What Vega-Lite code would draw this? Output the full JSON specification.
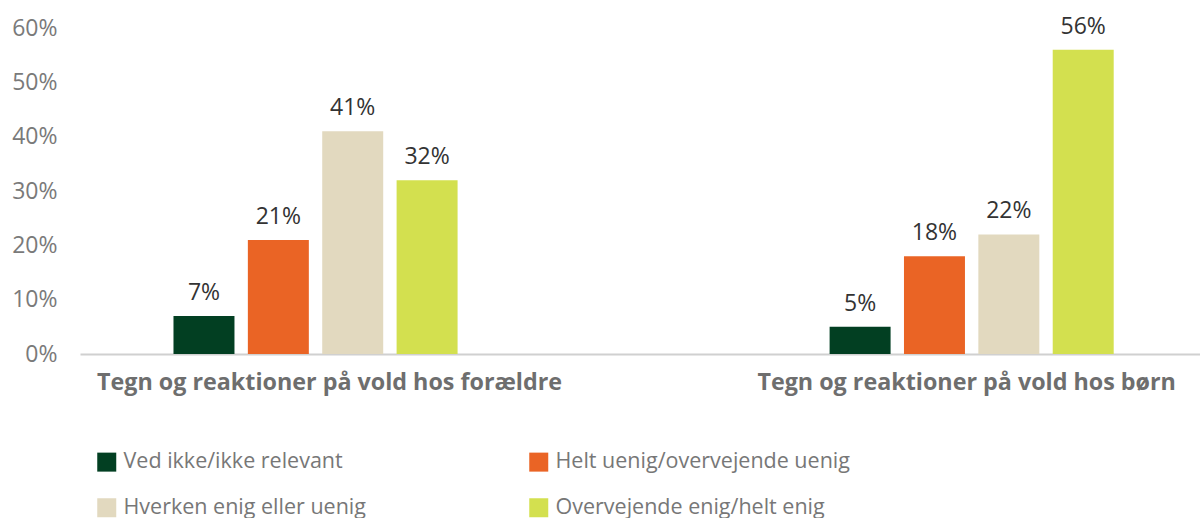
{
  "$schema": "https://vega.github.io/schema/vega-lite/v6.json",
  "width": 1120,
  "height": 326,
  "autosize": {"type": "none"},
  "padding": {"left": 80, "top": 28, "right": 0, "bottom": 164},
  "background": "white",
  "config": {"view": {"stroke": null}, "font": "Open Sans"},
  "data": {
    "values": [
      {"group": "Tegn og reaktioner på vold hos forældre", "cat": "Ved ikke/ikke relevant", "value": 0.07},
      {"group": "Tegn og reaktioner på vold hos forældre", "cat": "Helt uenig/overvejende uenig", "value": 0.21},
      {"group": "Tegn og reaktioner på vold hos forældre", "cat": "Hverken enig eller uenig", "value": 0.41},
      {"group": "Tegn og reaktioner på vold hos forældre", "cat": "Overvejende enig/helt enig", "value": 0.32},
      {"group": "Tegn og reaktioner på vold hos børn", "cat": "Ved ikke/ikke relevant", "value": 0.05},
      {"group": "Tegn og reaktioner på vold hos børn", "cat": "Helt uenig/overvejende uenig", "value": 0.18},
      {"group": "Tegn og reaktioner på vold hos børn", "cat": "Hverken enig eller uenig", "value": 0.22},
      {"group": "Tegn og reaktioner på vold hos børn", "cat": "Overvejende enig/helt enig", "value": 0.56}
    ]
  },
  "encoding": {
    "x": {
      "field": "group",
      "type": "nominal",
      "sort": ["Tegn og reaktioner på vold hos forældre", "Tegn og reaktioner på vold hos børn"],
      "scale": {"paddingInner": 0.567, "paddingOuter": 0.137, "align": 0.52},
      "axis": {
        "title": null,
        "labelAngle": 0,
        "labelFontSize": 23.3,
        "labelFontWeight": "bold",
        "labelColor": "#6e6e6e",
        "labelPadding": 17,
        "labelLimit": 0,
        "ticks": false,
        "domainColor": "#d0d0d0",
        "domainWidth": 2,
        "labelOffset": {"condition": {"test": "datum.index === 0", "value": 14}, "value": -5}
      }
    },
    "xOffset": {
      "field": "cat",
      "type": "nominal",
      "sort": ["Ved ikke/ikke relevant", "Helt uenig/overvejende uenig", "Hverken enig eller uenig", "Overvejende enig/helt enig"],
      "scale": {"paddingInner": 0.18, "paddingOuter": 0}
    },
    "y": {
      "field": "value",
      "type": "quantitative",
      "scale": {"domain": [0, 0.6], "nice": false},
      "axis": {
        "title": null,
        "values": [0, 0.1, 0.2, 0.3, 0.4, 0.5, 0.6],
        "format": ".0%",
        "grid": false,
        "ticks": false,
        "domain": false,
        "labelFontSize": 23,
        "labelColor": "#7a7a7a",
        "labelPadding": 23
      }
    }
  },
  "layer": [
    {
      "mark": {"type": "bar"},
      "encoding": {
        "color": {
          "field": "cat",
          "type": "nominal",
          "scale": {
            "domain": ["Ved ikke/ikke relevant", "Helt uenig/overvejende uenig", "Hverken enig eller uenig", "Overvejende enig/helt enig"],
            "range": ["#023f22", "#ea6425", "#e2d9bf", "#d3e04f"]
          },
          "legend": {
            "title": null,
            "orient": "none",
            "legendX": 16,
            "legendY": 423,
            "direction": "horizontal",
            "columns": 2,
            "columnPadding": 162,
            "rowPadding": 23,
            "padding": 0,
            "symbolType": "square",
            "symbolSize": 361,
            "symbolStrokeWidth": 0,
            "symbolOpacity": 1,
            "labelFontSize": 21.5,
            "labelColor": "#777777",
            "labelOffset": 6,
            "labelLimit": 0
          }
        }
      }
    },
    {
      "mark": {"type": "text", "dy": -11, "baseline": "bottom", "fontSize": 23, "color": "#333333"},
      "encoding": {
        "text": {"field": "value", "type": "quantitative", "format": ".0%"}
      }
    }
  ]
}
